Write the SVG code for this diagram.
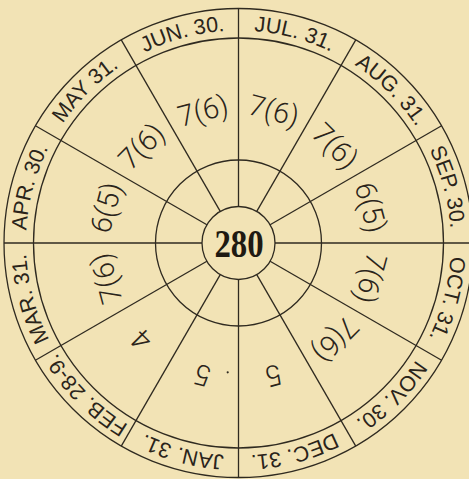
<svg xmlns="http://www.w3.org/2000/svg" width="469" height="479" viewBox="0 0 469 479">
<style>
.ln{fill:none;stroke:#2f2a20;stroke-width:1.3}
.mo{font-family:"Liberation Sans",Arial,sans-serif;font-size:21.5px;fill:#2a241a}
.dy{font-family:Roboto,"Liberation Sans",Arial,sans-serif;font-weight:300;font-size:29px;fill:#2a241a;text-anchor:middle}
.ctr{font-family:"Liberation Serif","Times New Roman",serif;font-weight:bold;font-size:41px;fill:#1f1a12;text-anchor:middle}
</style>
<defs>
<path id="arc" d="M238.5 30.5 A212.5 212.5 0 1 1 238.5 455.5 A212.5 212.5 0 1 1 238.5 30.5"/>
</defs>
<rect width="469" height="479" fill="#f2e3b5"/>
<g id="rings" class="ln">
<circle cx="238.5" cy="243" r="234.5"/>
<circle cx="238.5" cy="243" r="205"/>
<circle cx="238.5" cy="243" r="83"/>
<circle cx="238.5" cy="243" r="36.5"/>
</g>
<g id="spokes" class="ln">
<line x1="238.5" y1="206.5" x2="238.5" y2="8.5"/>
<line x1="238.5" y1="206.5" x2="238.5" y2="8.5" transform="rotate(30 238.5 243)"/>
<line x1="238.5" y1="206.5" x2="238.5" y2="8.5" transform="rotate(60 238.5 243)"/>
<line x1="238.5" y1="206.5" x2="238.5" y2="8.5" transform="rotate(90 238.5 243)"/>
<line x1="238.5" y1="206.5" x2="238.5" y2="8.5" transform="rotate(120 238.5 243)"/>
<line x1="238.5" y1="206.5" x2="238.5" y2="8.5" transform="rotate(150 238.5 243)"/>
<line x1="238.5" y1="206.5" x2="238.5" y2="8.5" transform="rotate(180 238.5 243)"/>
<line x1="238.5" y1="206.5" x2="238.5" y2="8.5" transform="rotate(210 238.5 243)"/>
<line x1="238.5" y1="206.5" x2="238.5" y2="8.5" transform="rotate(240 238.5 243)"/>
<line x1="238.5" y1="206.5" x2="238.5" y2="8.5" transform="rotate(270 238.5 243)"/>
<line x1="238.5" y1="206.5" x2="238.5" y2="8.5" transform="rotate(300 238.5 243)"/>
<line x1="238.5" y1="206.5" x2="238.5" y2="8.5" transform="rotate(330 238.5 243)"/>
</g>
<g id="months" class="mo" text-anchor="middle">
<text><textPath href="#arc" startOffset="4.1667%">JUL. 31.</textPath></text>
<text><textPath href="#arc" startOffset="12.5%">AUG. 31.</textPath></text>
<text><textPath href="#arc" startOffset="20.8333%">SEP. 30.</textPath></text>
<text><textPath href="#arc" startOffset="29.1667%">OCT. 31.</textPath></text>
<text><textPath href="#arc" startOffset="37.5%">NOV. 30.</textPath></text>
<text><textPath href="#arc" startOffset="45.8333%">DEC. 31.</textPath></text>
<text><textPath href="#arc" startOffset="54.1667%">JAN. 31.</textPath></text>
<text><textPath href="#arc" startOffset="62.5%">FEB. 28-9.</textPath></text>
<text><textPath href="#arc" startOffset="70.8333%">MAR. 31.</textPath></text>
<text><textPath href="#arc" startOffset="79.1667%">APR. 30.</textPath></text>
<text><textPath href="#arc" startOffset="87.5%">MAY 31.</textPath></text>
<text><textPath href="#arc" startOffset="95.8333%">JUN. 30.</textPath></text>
</g>
<g id="days" class="dy">
<text x="238.5" y="116" transform="rotate(15 238.5 243)">7(6)</text>
<text x="238.5" y="116" transform="rotate(45 238.5 243)">7(6)</text>
<text x="238.5" y="116" transform="rotate(75 238.5 243)">6(5)</text>
<text x="238.5" y="116" transform="rotate(105 238.5 243)">7(6)</text>
<text x="238.5" y="116" transform="rotate(135 238.5 243)">7(6)</text>
<text x="238.5" y="116" transform="rotate(165 238.5 243)">5</text>
<text x="238.5" y="116" transform="rotate(195 238.5 243)">5</text>
<text x="238.5" y="116" transform="rotate(225 238.5 243)">4</text>
<text x="238.5" y="116" transform="rotate(255 238.5 243)">7(6)</text>
<text x="238.5" y="116" transform="rotate(285 238.5 243)">6(5)</text>
<text x="238.5" y="116" transform="rotate(315 238.5 243)">7(6)</text>
<text x="238.5" y="116" transform="rotate(345 238.5 243)">7(6)</text>
</g>
<circle cx="227.7" cy="372.3" r="1.1" fill="#2f2a20"/>
<g id="center">
<text class="ctr" transform="translate(239 257) scale(0.8 1)">280</text>
</g>
</svg>
